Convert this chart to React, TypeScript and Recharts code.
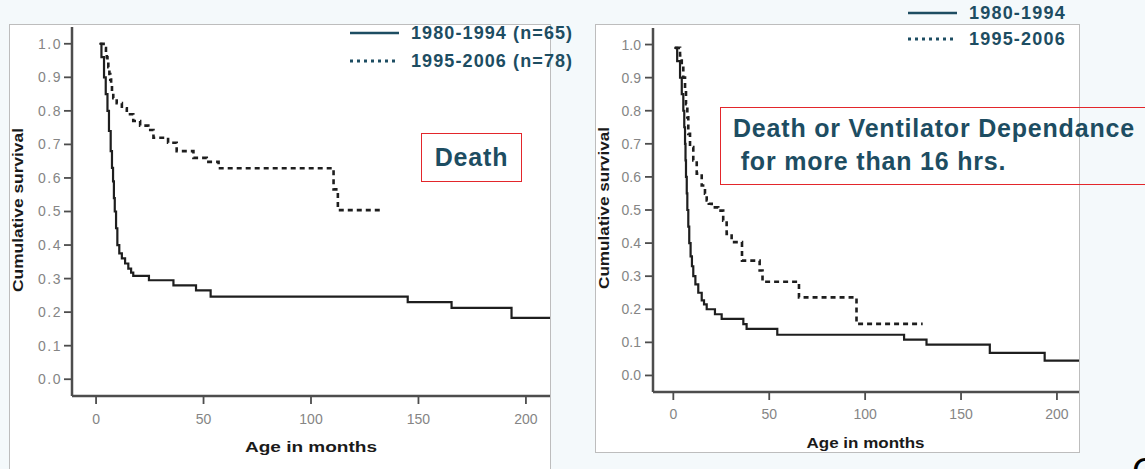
import { Legend, Line, LineChart, XAxis, YAxis } from "recharts";

const ticksX = [0, 50, 100, 150, 200];
const ticksY = [0, 0.1, 0.2, 0.3, 0.4, 0.5, 0.6, 0.7, 0.8, 0.9, 1.0];

// Death: 1980-1994
const deathMonthsA = [1.5, 2.5, 3.7, 4.5, 5.3, 6.0, 6.8, 7.4, 7.9, 8.3, 8.7, 9.3, 9.9, 10.8, 12.0, 13.5, 15.0, 16.3, 17.3, 24.6, 36.0, 46.5, 53.3, 145.0, 165.4, 193.3, 212];
const deathSurvA = [1.0, 0.96, 0.9, 0.85, 0.8, 0.74, 0.68, 0.63, 0.59, 0.54, 0.5, 0.45, 0.4, 0.375, 0.36, 0.345, 0.33, 0.318, 0.308, 0.295, 0.28, 0.265, 0.246, 0.23, 0.213, 0.183, 0.183];

// Death: 1995-2006
const deathMonthsB = [1.9, 3.5, 4.6, 5.0, 5.3, 5.7, 6.2, 6.6, 7.0, 7.4, 8.0, 9.6, 12.0, 14.3, 17.3, 20.5, 24.3, 26.7, 33.5, 37.5, 45.3, 51.5, 57.0, 110.5, 112.5, 133.0];
const deathSurvB = [1.0, 0.987, 0.974, 0.96, 0.947, 0.93, 0.91, 0.893, 0.875, 0.855, 0.838, 0.823, 0.808, 0.79, 0.77, 0.756, 0.743, 0.72, 0.705, 0.68, 0.66, 0.648, 0.629, 0.566, 0.504, 0.504];

// Death or ventilator dependance: 1980-1994
const ventMonthsA = [0.5, 2.0, 3.5, 4.4, 5.2, 5.7, 6.1, 6.35, 6.6, 7.0, 7.3, 7.8, 8.3, 9.0, 9.7, 10.4, 11.5, 13.0, 14.8, 16.0, 17.4, 21.7, 25.2, 36.5, 38.2, 54.2, 120.3, 132.0, 165.0, 193.6, 212];
const ventSurvA = [0.99, 0.95, 0.9, 0.85, 0.8, 0.75, 0.7, 0.65, 0.6, 0.55, 0.5, 0.45, 0.4, 0.36, 0.33, 0.3, 0.275, 0.25, 0.227, 0.215, 0.2, 0.185, 0.171, 0.155, 0.141, 0.123, 0.108, 0.093, 0.068, 0.045, 0.045];

// Death or ventilator dependance: 1995-2006
const ventMonthsB = [0.9, 3.5, 4.4, 5.2, 6.1, 6.6, 7.3, 7.8, 8.7, 10.4, 12.2, 14.8, 16.5, 17.4, 18.5, 20.0, 23.4, 26.0, 27.8, 30.4, 35.8, 45.0, 46.5, 65.5, 95.5, 130.0];
const ventSurvB = [0.99, 0.967, 0.94, 0.9, 0.86, 0.82, 0.78, 0.73, 0.69, 0.65, 0.61, 0.574, 0.549, 0.529, 0.519, 0.508, 0.498, 0.468, 0.428, 0.403, 0.347, 0.317, 0.283, 0.236, 0.156, 0.156];

const deathNames = ["1980-1994 (n=65)", "1995-2006 (n=78)"];
const ventNames = ["1980-1994", "1995-2006"];

type Point = { month: number; surv: number };

const toPoints = (months: number[], surv: number[]): Point[] =>
  months.map((month, i) => ({ month, surv: surv[i] }));

const TEAL = "#1d4d62";
const AXIS = "#4d4d4d";
const TICK = "#858585";
const FONT = "Arial, 'Liberation Sans', sans-serif";

const AxisTitle = ({ tx, ty, len, text, vertical }: any) => (
  <text
    x={tx}
    y={ty}
    textAnchor="middle"
    fontFamily={FONT}
    fontWeight="bold"
    fontSize={15}
    fill="#1a1a1a"
    textLength={len}
    lengthAdjust="spacingAndGlyphs"
    transform={vertical ? `rotate(-90, ${tx}, ${ty})` : undefined}
  >
    {text}
  </text>
);

const LegendKey = ({ names, rowHeight, gap, spacing }: any) => (
  <div style={{ fontFamily: FONT }}>
    {names.map((name: string, i: number) => (
      <div key={name} style={{ display: "flex", alignItems: "center", height: rowHeight }}>
        <svg width={49} height={6} style={{ flex: "none" }}>
          <line
            x1={0}
            y1={3}
            x2={49}
            y2={3}
            stroke={TEAL}
            strokeWidth={i === 0 ? 2.5 : 3}
            strokeDasharray={i === 0 ? undefined : "3 4"}
          />
        </svg>
        <span
          style={{
            marginLeft: gap,
            fontSize: 18,
            fontWeight: "bold",
            color: TEAL,
            letterSpacing: spacing,
            whiteSpace: "nowrap",
          }}
        >
          {name}
        </span>
      </div>
    ))}
  </div>
);

type PanelProps = {
  left: number;
  width: number;
  marginTop: number;
  marginRight: number;
  axisHeight: number;
  xDomain: [number, number];
  solid: Point[];
  dotted: Point[];
  names: string[];
  legendLeft: number;
  legendTop: number;
  legendRow: number;
  legendSpacing: number;
  yTitle: { x: number; y: number; len: number };
  xTitle: { x: number; y: number; len: number };
  yTickSpacing: number;
  yTickMargin: number;
  xTickMargin: number;
};

function SurvivalPanel(p: PanelProps) {
  return (
    <div style={{ position: "absolute", left: p.left, top: 0 }}>
      <LineChart
        width={p.width}
        height={469}
        margin={{ top: p.marginTop, right: p.marginRight, bottom: 0, left: 0 }}
      >
        <XAxis
          type="number"
          dataKey="month"
          domain={p.xDomain}
          ticks={ticksX}
          allowDataOverflow
          height={p.axisHeight}
          tickSize={8}
          tickMargin={p.xTickMargin}
          axisLine={{ stroke: AXIS, strokeWidth: 2.5 }}
          tickLine={{ stroke: AXIS, strokeWidth: 1.8 }}
          tick={{ fill: TICK, fontSize: 14, fontFamily: FONT }}
          label={<AxisTitle tx={p.xTitle.x} ty={p.xTitle.y} len={p.xTitle.len} text="Age in months" />}
        />
        <YAxis
          type="number"
          dataKey="surv"
          domain={[-0.05, 1.05]}
          ticks={ticksY}
          allowDataOverflow
          width={72}
          tickSize={8}
          tickMargin={p.yTickMargin}
          tickFormatter={(v: number) => v.toFixed(1)}
          axisLine={{ stroke: AXIS, strokeWidth: 2.5 }}
          tickLine={{ stroke: AXIS, strokeWidth: 1.8 }}
          tick={{ fill: TICK, fontSize: 14, fontFamily: FONT, letterSpacing: p.yTickSpacing }}
          label={
            <AxisTitle
              tx={p.yTitle.x}
              ty={p.yTitle.y}
              len={p.yTitle.len}
              text="Cumulative survival"
              vertical
            />
          }
        />
        <Legend
          layout="vertical"
          align="center"
          verticalAlign="middle"
          wrapperStyle={{ left: p.legendLeft, top: p.legendTop, width: 260 }}
          content={() => (
            <LegendKey names={p.names} rowHeight={p.legendRow} gap={12} spacing={p.legendSpacing} />
          )}
        />
        <Line
          data={p.solid}
          dataKey="surv"
          name={p.names[0]}
          type="stepAfter"
          stroke="#1e1e1e"
          strokeWidth={2.2}
          dot={false}
          activeDot={false}
          isAnimationActive={false}
        />
        <Line
          data={p.dotted}
          dataKey="surv"
          name={p.names[1]}
          type="stepAfter"
          stroke="#1e1e1e"
          strokeWidth={2.6}
          strokeDasharray="5 4"
          dot={false}
          activeDot={false}
          isAnimationActive={false}
        />
      </LineChart>
    </div>
  );
}

export default function App() {
  return (
    <div
      style={{
        position: "absolute",
        left: 0,
        top: 0,
        width: 1145,
        height: 469,
        overflow: "hidden",
        background: "#f4f9fb",
        fontFamily: FONT,
      }}
    >
      <div
        style={{
          position: "absolute",
          left: 9,
          top: 24,
          width: 542,
          height: 470,
          boxSizing: "border-box",
          border: "1px solid #bdbdbd",
          background: "#fff",
        }}
      />
      <div
        style={{
          position: "absolute",
          left: 595,
          top: 24,
          width: 485,
          height: 429,
          boxSizing: "border-box",
          border: "1px solid #bdbdbd",
          background: "#fff",
        }}
      />

      <SurvivalPanel
        left={0}
        width={590}
        marginTop={27}
        marginRight={40}
        axisHeight={73}
        xDomain={[-11.2, 211.2]}
        solid={toPoints(deathMonthsA, deathSurvA)}
        dotted={toPoints(deathMonthsB, deathSurvB)}
        names={deathNames}
        legendLeft={350}
        legendTop={19}
        legendRow={28}
        legendSpacing={1.1}
        yTitle={{ x: 23, y: 210, len: 164 }}
        xTitle={{ x: 311, y: 452, len: 132 }}
        yTickSpacing={1.5}
        yTickMargin={2}
        xTickMargin={10}
      />
      <SurvivalPanel
        left={581}
        width={498}
        marginTop={28}
        marginRight={0}
        axisHeight={77}
        xDomain={[-10.6, 211.5]}
        solid={toPoints(ventMonthsA, ventSurvA)}
        dotted={toPoints(ventMonthsB, ventSurvB)}
        names={ventNames}
        legendLeft={327}
        legendTop={0}
        legendRow={26}
        legendSpacing={1.2}
        yTitle={{ x: 28, y: 208, len: 162 }}
        xTitle={{ x: 284.5, y: 448, len: 118 }}
        yTickSpacing={0}
        yTickMargin={4}
        xTickMargin={9}
      />

      <div
        style={{
          position: "absolute",
          left: 421,
          top: 133,
          width: 101,
          height: 49,
          boxSizing: "border-box",
          border: "1.5px solid #e3262b",
          display: "flex",
          alignItems: "center",
          justifyContent: "center",
          color: TEAL,
          fontSize: 25,
          fontWeight: "bold",
          letterSpacing: 0.8,
        }}
      >
        Death
      </div>
      <div
        style={{
          position: "absolute",
          left: 720,
          top: 107,
          width: 460,
          height: 78,
          boxSizing: "border-box",
          border: "1.5px solid #e3262b",
          color: TEAL,
          fontSize: 25,
          fontWeight: "bold",
          letterSpacing: 0.8,
          lineHeight: "33px",
          whiteSpace: "pre",
          padding: "4px 0 0 12px",
        }}
      >
        {"Death or Ventilator Dependance\n for more than 16 hrs."}
      </div>
      <div
        style={{
          position: "absolute",
          left: 1132,
          top: 454,
          fontSize: 36,
          lineHeight: "36px",
          color: "#000",
        }}
      >
        C
      </div>
    </div>
  );
}
